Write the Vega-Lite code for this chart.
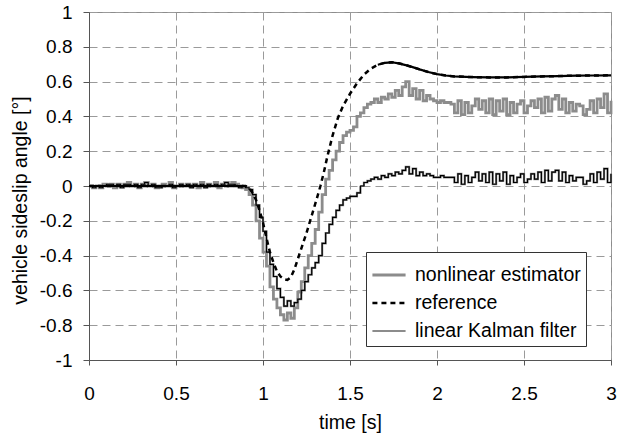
{
  "$schema": "https://vega.github.io/schema/vega-lite/v6.json",
  "width": 522,
  "height": 348,
  "autosize": {"type": "none"},
  "padding": {"left": 89, "top": 12, "right": 16, "bottom": 74},
  "background": "white",
  "config": {
    "font": "Liberation Sans",
    "view": {"stroke": "#8c8c8c", "strokeWidth": 1},
    "axis": {
      "labelFont": "Liberation Sans",
      "titleFont": "Liberation Sans",
      "labelFontSize": 19,
      "titleFontSize": 19.5,
      "titleFontWeight": "normal",
      "labelColor": "#000000",
      "titleColor": "#000000",
      "domainColor": "#555555",
      "tickColor": "#555555",
      "gridColor": "#9a9a9a",
      "gridDash": [8, 5],
      "gridWidth": 1,
      "labelOverlap": false,
      "labelBound": false
    },
    "legend": {
      "labelFont": "Liberation Sans",
      "labelFontSize": 19.5,
      "labelColor": "#000000",
      "labelLimit": 0
    }
  },
  "datasets": {
    "est": [
      {"t": 0.00, "nonlinear estimator": 0.00, "linear Kalman filter": 0.00},
      {"t": 0.02, "nonlinear estimator": -0.01, "linear Kalman filter": -0.01},
      {"t": 0.04, "nonlinear estimator": 0.00, "linear Kalman filter": 0.00},
      {"t": 0.06, "nonlinear estimator": -0.01, "linear Kalman filter": -0.01},
      {"t": 0.08, "nonlinear estimator": 0.01, "linear Kalman filter": 0.00},
      {"t": 0.10, "nonlinear estimator": 0.00, "linear Kalman filter": 0.01},
      {"t": 0.12, "nonlinear estimator": 0.01, "linear Kalman filter": 0.01},
      {"t": 0.14, "nonlinear estimator": -0.01, "linear Kalman filter": 0.00},
      {"t": 0.16, "nonlinear estimator": 0.01, "linear Kalman filter": 0.01},
      {"t": 0.18, "nonlinear estimator": 0.00, "linear Kalman filter": -0.01},
      {"t": 0.20, "nonlinear estimator": 0.01, "linear Kalman filter": 0.01},
      {"t": 0.22, "nonlinear estimator": 0.02, "linear Kalman filter": 0.01},
      {"t": 0.24, "nonlinear estimator": 0.00, "linear Kalman filter": 0.00},
      {"t": 0.26, "nonlinear estimator": 0.01, "linear Kalman filter": 0.01},
      {"t": 0.28, "nonlinear estimator": -0.01, "linear Kalman filter": -0.01},
      {"t": 0.30, "nonlinear estimator": 0.01, "linear Kalman filter": 0.01},
      {"t": 0.32, "nonlinear estimator": 0.02, "linear Kalman filter": 0.02},
      {"t": 0.34, "nonlinear estimator": 0.00, "linear Kalman filter": 0.00},
      {"t": 0.36, "nonlinear estimator": 0.01, "linear Kalman filter": 0.01},
      {"t": 0.38, "nonlinear estimator": -0.01, "linear Kalman filter": -0.01},
      {"t": 0.40, "nonlinear estimator": 0.00, "linear Kalman filter": -0.01},
      {"t": 0.42, "nonlinear estimator": 0.01, "linear Kalman filter": 0.00},
      {"t": 0.44, "nonlinear estimator": 0.00, "linear Kalman filter": 0.00},
      {"t": 0.46, "nonlinear estimator": 0.02, "linear Kalman filter": 0.01},
      {"t": 0.48, "nonlinear estimator": -0.01, "linear Kalman filter": -0.01},
      {"t": 0.50, "nonlinear estimator": 0.00, "linear Kalman filter": 0.00},
      {"t": 0.52, "nonlinear estimator": 0.01, "linear Kalman filter": 0.01},
      {"t": 0.54, "nonlinear estimator": 0.00, "linear Kalman filter": 0.00},
      {"t": 0.56, "nonlinear estimator": 0.01, "linear Kalman filter": 0.01},
      {"t": 0.58, "nonlinear estimator": 0.00, "linear Kalman filter": -0.01},
      {"t": 0.60, "nonlinear estimator": 0.01, "linear Kalman filter": 0.01},
      {"t": 0.62, "nonlinear estimator": -0.01, "linear Kalman filter": 0.00},
      {"t": 0.64, "nonlinear estimator": 0.02, "linear Kalman filter": 0.01},
      {"t": 0.66, "nonlinear estimator": 0.00, "linear Kalman filter": -0.01},
      {"t": 0.68, "nonlinear estimator": 0.01, "linear Kalman filter": 0.01},
      {"t": 0.70, "nonlinear estimator": 0.00, "linear Kalman filter": 0.00},
      {"t": 0.72, "nonlinear estimator": 0.02, "linear Kalman filter": 0.01},
      {"t": 0.74, "nonlinear estimator": -0.01, "linear Kalman filter": 0.00},
      {"t": 0.76, "nonlinear estimator": 0.01, "linear Kalman filter": 0.01},
      {"t": 0.78, "nonlinear estimator": 0.02, "linear Kalman filter": 0.02},
      {"t": 0.80, "nonlinear estimator": 0.00, "linear Kalman filter": 0.01},
      {"t": 0.82, "nonlinear estimator": 0.02, "linear Kalman filter": 0.01},
      {"t": 0.84, "nonlinear estimator": 0.01, "linear Kalman filter": 0.00},
      {"t": 0.86, "nonlinear estimator": 0.00, "linear Kalman filter": -0.01},
      {"t": 0.88, "nonlinear estimator": -0.01, "linear Kalman filter": 0.00},
      {"t": 0.90, "nonlinear estimator": -0.02, "linear Kalman filter": -0.01},
      {"t": 0.92, "nonlinear estimator": -0.05, "linear Kalman filter": -0.02},
      {"t": 0.94, "nonlinear estimator": -0.11, "linear Kalman filter": -0.05},
      {"t": 0.96, "nonlinear estimator": -0.20, "linear Kalman filter": -0.11},
      {"t": 0.98, "nonlinear estimator": -0.30, "linear Kalman filter": -0.18},
      {"t": 1.00, "nonlinear estimator": -0.38, "linear Kalman filter": -0.26},
      {"t": 1.02, "nonlinear estimator": -0.46, "linear Kalman filter": -0.38},
      {"t": 1.04, "nonlinear estimator": -0.58, "linear Kalman filter": -0.45},
      {"t": 1.06, "nonlinear estimator": -0.65, "linear Kalman filter": -0.52},
      {"t": 1.08, "nonlinear estimator": -0.70, "linear Kalman filter": -0.59},
      {"t": 1.10, "nonlinear estimator": -0.74, "linear Kalman filter": -0.64},
      {"t": 1.12, "nonlinear estimator": -0.77, "linear Kalman filter": -0.69},
      {"t": 1.14, "nonlinear estimator": -0.73, "linear Kalman filter": -0.66},
      {"t": 1.16, "nonlinear estimator": -0.76, "linear Kalman filter": -0.69},
      {"t": 1.18, "nonlinear estimator": -0.70, "linear Kalman filter": -0.67},
      {"t": 1.20, "nonlinear estimator": -0.61, "linear Kalman filter": -0.65},
      {"t": 1.22, "nonlinear estimator": -0.55, "linear Kalman filter": -0.60},
      {"t": 1.24, "nonlinear estimator": -0.47, "linear Kalman filter": -0.55},
      {"t": 1.26, "nonlinear estimator": -0.40, "linear Kalman filter": -0.51},
      {"t": 1.28, "nonlinear estimator": -0.33, "linear Kalman filter": -0.47},
      {"t": 1.30, "nonlinear estimator": -0.25, "linear Kalman filter": -0.44},
      {"t": 1.32, "nonlinear estimator": -0.15, "linear Kalman filter": -0.40},
      {"t": 1.34, "nonlinear estimator": -0.05, "linear Kalman filter": -0.33},
      {"t": 1.36, "nonlinear estimator": 0.04, "linear Kalman filter": -0.27},
      {"t": 1.38, "nonlinear estimator": 0.09, "linear Kalman filter": -0.22},
      {"t": 1.40, "nonlinear estimator": 0.15, "linear Kalman filter": -0.18},
      {"t": 1.42, "nonlinear estimator": 0.20, "linear Kalman filter": -0.14},
      {"t": 1.44, "nonlinear estimator": 0.25, "linear Kalman filter": -0.11},
      {"t": 1.46, "nonlinear estimator": 0.29, "linear Kalman filter": -0.08},
      {"t": 1.48, "nonlinear estimator": 0.31, "linear Kalman filter": -0.07},
      {"t": 1.50, "nonlinear estimator": 0.32, "linear Kalman filter": -0.06},
      {"t": 1.52, "nonlinear estimator": 0.34, "linear Kalman filter": -0.06},
      {"t": 1.54, "nonlinear estimator": 0.40, "linear Kalman filter": -0.04},
      {"t": 1.56, "nonlinear estimator": 0.42, "linear Kalman filter": 0.00},
      {"t": 1.58, "nonlinear estimator": 0.45, "linear Kalman filter": 0.02},
      {"t": 1.60, "nonlinear estimator": 0.47, "linear Kalman filter": 0.03},
      {"t": 1.62, "nonlinear estimator": 0.48, "linear Kalman filter": 0.04},
      {"t": 1.64, "nonlinear estimator": 0.50, "linear Kalman filter": 0.05},
      {"t": 1.66, "nonlinear estimator": 0.48, "linear Kalman filter": 0.04},
      {"t": 1.68, "nonlinear estimator": 0.51, "linear Kalman filter": 0.06},
      {"t": 1.70, "nonlinear estimator": 0.50, "linear Kalman filter": 0.05},
      {"t": 1.72, "nonlinear estimator": 0.53, "linear Kalman filter": 0.07},
      {"t": 1.74, "nonlinear estimator": 0.51, "linear Kalman filter": 0.06},
      {"t": 1.76, "nonlinear estimator": 0.55, "linear Kalman filter": 0.08},
      {"t": 1.78, "nonlinear estimator": 0.52, "linear Kalman filter": 0.07},
      {"t": 1.80, "nonlinear estimator": 0.57, "linear Kalman filter": 0.09},
      {"t": 1.82, "nonlinear estimator": 0.60, "linear Kalman filter": 0.11},
      {"t": 1.84, "nonlinear estimator": 0.52, "linear Kalman filter": 0.07},
      {"t": 1.86, "nonlinear estimator": 0.56, "linear Kalman filter": 0.10},
      {"t": 1.88, "nonlinear estimator": 0.50, "linear Kalman filter": 0.06},
      {"t": 1.90, "nonlinear estimator": 0.55, "linear Kalman filter": 0.08},
      {"t": 1.92, "nonlinear estimator": 0.49, "linear Kalman filter": 0.06},
      {"t": 1.94, "nonlinear estimator": 0.52, "linear Kalman filter": 0.07},
      {"t": 1.96, "nonlinear estimator": 0.50, "linear Kalman filter": 0.06},
      {"t": 1.98, "nonlinear estimator": 0.49, "linear Kalman filter": 0.05},
      {"t": 2.00, "nonlinear estimator": 0.48, "linear Kalman filter": 0.05},
      {"t": 2.02, "nonlinear estimator": 0.49, "linear Kalman filter": 0.06},
      {"t": 2.04, "nonlinear estimator": 0.48, "linear Kalman filter": 0.05},
      {"t": 2.06, "nonlinear estimator": 0.48, "linear Kalman filter": 0.05},
      {"t": 2.08, "nonlinear estimator": 0.47, "linear Kalman filter": 0.05},
      {"t": 2.10, "nonlinear estimator": 0.42, "linear Kalman filter": 0.02},
      {"t": 2.12, "nonlinear estimator": 0.49, "linear Kalman filter": 0.07},
      {"t": 2.14, "nonlinear estimator": 0.41, "linear Kalman filter": 0.01},
      {"t": 2.16, "nonlinear estimator": 0.48, "linear Kalman filter": 0.06},
      {"t": 2.18, "nonlinear estimator": 0.42, "linear Kalman filter": 0.02},
      {"t": 2.20, "nonlinear estimator": 0.46, "linear Kalman filter": 0.05},
      {"t": 2.22, "nonlinear estimator": 0.50, "linear Kalman filter": 0.08},
      {"t": 2.24, "nonlinear estimator": 0.44, "linear Kalman filter": 0.03},
      {"t": 2.26, "nonlinear estimator": 0.49, "linear Kalman filter": 0.07},
      {"t": 2.28, "nonlinear estimator": 0.42, "linear Kalman filter": 0.02},
      {"t": 2.30, "nonlinear estimator": 0.50, "linear Kalman filter": 0.08},
      {"t": 2.32, "nonlinear estimator": 0.41, "linear Kalman filter": 0.01},
      {"t": 2.34, "nonlinear estimator": 0.49, "linear Kalman filter": 0.07},
      {"t": 2.36, "nonlinear estimator": 0.43, "linear Kalman filter": 0.03},
      {"t": 2.38, "nonlinear estimator": 0.50, "linear Kalman filter": 0.08},
      {"t": 2.40, "nonlinear estimator": 0.41, "linear Kalman filter": 0.01},
      {"t": 2.42, "nonlinear estimator": 0.48, "linear Kalman filter": 0.06},
      {"t": 2.44, "nonlinear estimator": 0.42, "linear Kalman filter": 0.02},
      {"t": 2.46, "nonlinear estimator": 0.47, "linear Kalman filter": 0.05},
      {"t": 2.48, "nonlinear estimator": 0.49, "linear Kalman filter": 0.07},
      {"t": 2.50, "nonlinear estimator": 0.42, "linear Kalman filter": 0.02},
      {"t": 2.52, "nonlinear estimator": 0.46, "linear Kalman filter": 0.04},
      {"t": 2.54, "nonlinear estimator": 0.49, "linear Kalman filter": 0.07},
      {"t": 2.56, "nonlinear estimator": 0.45, "linear Kalman filter": 0.04},
      {"t": 2.58, "nonlinear estimator": 0.50, "linear Kalman filter": 0.08},
      {"t": 2.60, "nonlinear estimator": 0.42, "linear Kalman filter": 0.02},
      {"t": 2.62, "nonlinear estimator": 0.51, "linear Kalman filter": 0.09},
      {"t": 2.64, "nonlinear estimator": 0.43, "linear Kalman filter": 0.03},
      {"t": 2.66, "nonlinear estimator": 0.50, "linear Kalman filter": 0.08},
      {"t": 2.68, "nonlinear estimator": 0.52, "linear Kalman filter": 0.09},
      {"t": 2.70, "nonlinear estimator": 0.44, "linear Kalman filter": 0.03},
      {"t": 2.72, "nonlinear estimator": 0.50, "linear Kalman filter": 0.08},
      {"t": 2.74, "nonlinear estimator": 0.42, "linear Kalman filter": 0.02},
      {"t": 2.76, "nonlinear estimator": 0.48, "linear Kalman filter": 0.06},
      {"t": 2.78, "nonlinear estimator": 0.43, "linear Kalman filter": 0.03},
      {"t": 2.80, "nonlinear estimator": 0.47, "linear Kalman filter": 0.05},
      {"t": 2.82, "nonlinear estimator": 0.46, "linear Kalman filter": 0.05},
      {"t": 2.84, "nonlinear estimator": 0.41, "linear Kalman filter": 0.01},
      {"t": 2.86, "nonlinear estimator": 0.44, "linear Kalman filter": 0.03},
      {"t": 2.88, "nonlinear estimator": 0.49, "linear Kalman filter": 0.07},
      {"t": 2.90, "nonlinear estimator": 0.42, "linear Kalman filter": 0.02},
      {"t": 2.92, "nonlinear estimator": 0.50, "linear Kalman filter": 0.08},
      {"t": 2.94, "nonlinear estimator": 0.45, "linear Kalman filter": 0.04},
      {"t": 2.96, "nonlinear estimator": 0.53, "linear Kalman filter": 0.10},
      {"t": 2.98, "nonlinear estimator": 0.42, "linear Kalman filter": 0.02},
      {"t": 3.00, "nonlinear estimator": 0.49, "linear Kalman filter": 0.07}
    ],
    "ref": [
      {"t": 0.00, "v": 0.0, "series": "reference", "seg": "a"},
      {"t": 0.90, "v": 0.0, "series": "reference", "seg": "a"},
      {"t": 0.92, "v": -0.01, "series": "reference", "seg": "b"},
      {"t": 0.94, "v": -0.04, "series": "reference", "seg": "b"},
      {"t": 0.96, "v": -0.08, "series": "reference", "seg": "b"},
      {"t": 0.98, "v": -0.14, "series": "reference", "seg": "b"},
      {"t": 1.00, "v": -0.21, "series": "reference", "seg": "b"},
      {"t": 1.02, "v": -0.30, "series": "reference", "seg": "b"},
      {"t": 1.04, "v": -0.38, "series": "reference", "seg": "b"},
      {"t": 1.06, "v": -0.44, "series": "reference", "seg": "b"},
      {"t": 1.08, "v": -0.49, "series": "reference", "seg": "b"},
      {"t": 1.10, "v": -0.52, "series": "reference", "seg": "b"},
      {"t": 1.12, "v": -0.535, "series": "reference", "seg": "b"},
      {"t": 1.14, "v": -0.54, "series": "reference", "seg": "b"},
      {"t": 1.16, "v": -0.525, "series": "reference", "seg": "b"},
      {"t": 1.18, "v": -0.48, "series": "reference", "seg": "b"},
      {"t": 1.20, "v": -0.42, "series": "reference", "seg": "b"},
      {"t": 1.22, "v": -0.36, "series": "reference", "seg": "b"},
      {"t": 1.25, "v": -0.27, "series": "reference", "seg": "b"},
      {"t": 1.28, "v": -0.17, "series": "reference", "seg": "b"},
      {"t": 1.31, "v": -0.07, "series": "reference", "seg": "b"},
      {"t": 1.33, "v": 0.0, "series": "reference", "seg": "b"},
      {"t": 1.35, "v": 0.08, "series": "reference", "seg": "b"},
      {"t": 1.37, "v": 0.17, "series": "reference", "seg": "b"},
      {"t": 1.40, "v": 0.29, "series": "reference", "seg": "b"},
      {"t": 1.43, "v": 0.39, "series": "reference", "seg": "b"},
      {"t": 1.46, "v": 0.46, "series": "reference", "seg": "b"},
      {"t": 1.50, "v": 0.53, "series": "reference", "seg": "b"},
      {"t": 1.54, "v": 0.59, "series": "reference", "seg": "b"},
      {"t": 1.58, "v": 0.64, "series": "reference", "seg": "b"},
      {"t": 1.62, "v": 0.675, "series": "reference", "seg": "b"},
      {"t": 1.66, "v": 0.697, "series": "reference", "seg": "c"},
      {"t": 1.70, "v": 0.708, "series": "reference", "seg": "c"},
      {"t": 1.74, "v": 0.711, "series": "reference", "seg": "c"},
      {"t": 1.78, "v": 0.705, "series": "reference", "seg": "c"},
      {"t": 1.82, "v": 0.695, "series": "reference", "seg": "c"},
      {"t": 1.86, "v": 0.683, "series": "reference", "seg": "c"},
      {"t": 1.90, "v": 0.67, "series": "reference", "seg": "c"},
      {"t": 1.95, "v": 0.655, "series": "reference", "seg": "c"},
      {"t": 2.00, "v": 0.643, "series": "reference", "seg": "c"},
      {"t": 2.05, "v": 0.635, "series": "reference", "seg": "c"},
      {"t": 2.10, "v": 0.63, "series": "reference", "seg": "c"},
      {"t": 2.20, "v": 0.626, "series": "reference", "seg": "c"},
      {"t": 2.30, "v": 0.624, "series": "reference", "seg": "c"},
      {"t": 2.40, "v": 0.624, "series": "reference", "seg": "c"},
      {"t": 2.50, "v": 0.627, "series": "reference", "seg": "c"},
      {"t": 2.60, "v": 0.63, "series": "reference", "seg": "c"},
      {"t": 2.70, "v": 0.632, "series": "reference", "seg": "c"},
      {"t": 2.80, "v": 0.634, "series": "reference", "seg": "c"},
      {"t": 2.90, "v": 0.635, "series": "reference", "seg": "c"},
      {"t": 3.00, "v": 0.636, "series": "reference", "seg": "c"}
    ]
  },
  "encoding": {
    "x": {
      "field": "t",
      "type": "quantitative",
      "scale": {"domain": [0, 3], "nice": false, "zero": false},
      "axis": {
        "title": "time [s]",
        "values": [0, 0.5, 1, 1.5, 2, 2.5, 3],
        "tickCount": 20,
        "labelExpr": "datum.value + ''",
        "tickSize": 5,
        "labelPadding": 19,
        "titleY": 62,
        "titleBaseline": "middle",
        "labelFlush": false
      }
    }
  },
  "layer": [
    {
      "data": {"name": "est"},
      "transform": [
        {"fold": ["nonlinear estimator", "linear Kalman filter"], "as": ["series", "value"]}
      ],
      "mark": {"type": "line", "interpolate": "step-after"},
      "encoding": {
        "y": {
          "field": "value",
          "type": "quantitative",
          "scale": {"domain": [-1, 1], "nice": false},
          "axis": {
            "title": "vehicle sideslip angle [°]",
            "values": [-1, -0.8, -0.6, -0.4, -0.2, 0, 0.2, 0.4, 0.6, 0.8, 1],
            "tickCount": 20,
            "labelExpr": "datum.value + ''",
            "tickSize": 6,
            "labelPadding": 11,
            "titleX": -69,
            "titleY": 188,
            "titleAlign": "center",
            "titleBaseline": "middle",
            "titleAngle": -90
          }
        },
        "color": {
          "field": "series",
          "type": "nominal",
          "scale": {
            "domain": ["nonlinear estimator", "reference", "linear Kalman filter"],
            "range": ["#8c8c8c", "#000000", "#8c8c8c"]
          },
          "legend": {
            "title": null,
            "orient": "none",
            "legendX": 277,
            "legendY": 240,
            "strokeColor": "#333333",
            "fillColor": "#ffffff",
            "padding": 5,
            "symbolType": "stroke",
            "symbolSize": 1100,
            "labelOffset": 8,
            "rowPadding": 0,
            "labelLimit": 0
          }
        },
        "strokeWidth": {
          "field": "series",
          "type": "nominal",
          "scale": {
            "domain": ["nonlinear estimator", "reference", "linear Kalman filter"],
            "range": [2.8, 2.2, 1.3]
          }
        },
        "strokeDash": {
          "field": "series",
          "type": "nominal",
          "scale": {
            "domain": ["nonlinear estimator", "reference", "linear Kalman filter"],
            "range": [[1, 0], [5, 4], [1, 0]]
          }
        }
      }
    },
    {
      "data": {"name": "ref"},
      "mark": {"type": "line"},
      "encoding": {
        "y": {"field": "v", "type": "quantitative"},
        "color": {"field": "series", "type": "nominal"},
        "strokeWidth": {"field": "series", "type": "nominal"},
        "strokeDash": {"field": "series", "type": "nominal"}
      }
    },
    {
      "data": {"name": "ref"},
      "transform": [{"filter": "datum.seg != 'b'"}],
      "mark": {"type": "line", "stroke": "#000000", "strokeWidth": 2.2},
      "encoding": {
        "y": {"field": "v", "type": "quantitative"},
        "detail": {"field": "seg", "type": "nominal"}
      }
    },
    {
      "data": {"name": "est"},
      "mark": {"type": "line", "interpolate": "step-after", "stroke": "#000000", "strokeWidth": 1.2},
      "encoding": {
        "y": {"field": "linear Kalman filter", "type": "quantitative"}
      }
    }
  ]
}
